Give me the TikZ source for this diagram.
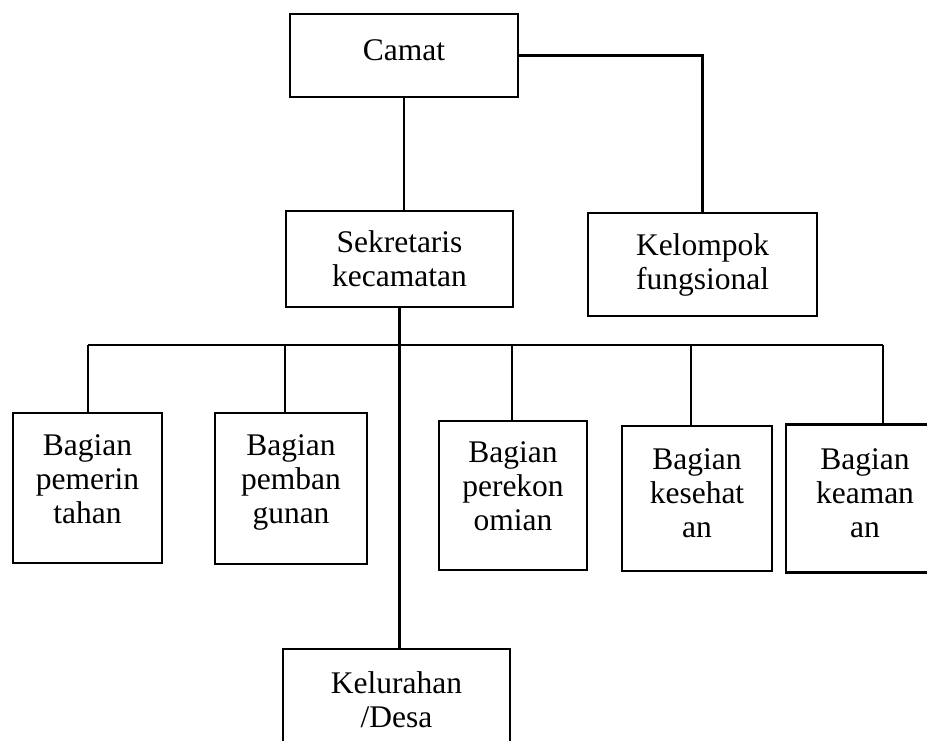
\documentclass[tikz,border=0pt]{standalone}
\usepackage{fontspec}
\setmainfont{Liberation Serif}
\newcommand{\upby}[1]{\\[-#1]\mbox{}}
\begin{document}
\begin{tikzpicture}[x=1pt,y=-1pt,
  box/.style={draw, line width=2.4pt, align=center, inner sep=0pt,
    font=\fontsize{31.5}{34}\selectfont},
  conn/.style={line width=2.4pt}]
\useasboundingbox (0,0) rectangle (927,741);
\clip (0,0) rectangle (927,741);
\node[box, minimum width=228pt, minimum height=83pt] (camat) at (404,55.5) {Camat\upby{24pt}};
\node[box, minimum width=227pt, minimum height=96pt] (sekr) at (399.5,259) {Sekretaris\\kecamatan};
\node[box, minimum width=229pt, minimum height=103pt] (kelp) at (702.5,264.5) {Kelompok\\fungsional};
\node[box, minimum width=149pt, minimum height=150pt] (pem) at (87.5,488) {Bagian\\pemerin\\tahan\upby{16pt}};
\node[box, minimum width=152pt, minimum height=151pt] (pmb) at (291,488.5) {Bagian\\pemban\\gunan\upby{16pt}};
\node[box, minimum width=148pt, minimum height=149pt] (eko) at (513,495.5) {Bagian\\perekon\\omian\upby{16pt}};
\node[box, minimum width=150pt, minimum height=145pt] (kes) at (697,498.5) {Bagian\\kesehat\\an\upby{24pt}};
\node[box, minimum width=158pt, minimum height=148pt] (kea) at (865,498.5) {Bagian\\keaman\\an\upby{24pt}};
\node[box, minimum width=227pt, minimum height=101pt] (kelu) at (396.5,699.5) {Kelurahan\\/Desa};
% connectors
\draw[conn] (camat.east) -| (kelp.north);
\draw[conn] (camat.south) -- (camat.south |- sekr.north);
\coordinate (bl) at (88,345);
\coordinate (br) at (883,345);
\draw[conn] (bl) -- (br);
\draw[conn] (bl) -- (bl |- pem.north);
\draw[conn] (sekr.south) -- (sekr.south |- kelu.north);
\coordinate (j2) at (285,345);
\coordinate (j3) at (512,345);
\coordinate (j4) at (691,345);
\draw[conn] (j2) -- (j2 |- pmb.north);
\draw[conn] (j3) -- (j3 |- eko.north);
\draw[conn] (j4) -- (j4 |- kes.north);
\draw[conn] (br) -- (br |- kea.north);
\end{tikzpicture}
\end{document}
